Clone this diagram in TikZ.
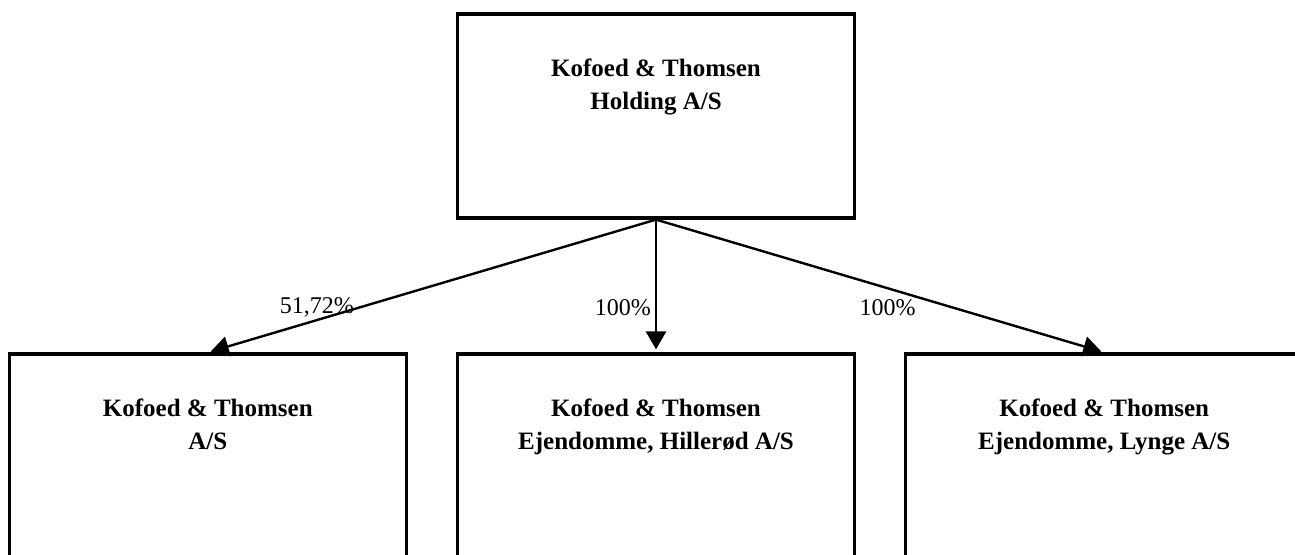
\documentclass[tikz,border=0pt]{standalone}
\usepackage{fontspec}
\setmainfont{Liberation Serif}
\usetikzlibrary{positioning,arrows.meta}

\begin{document}
\begin{tikzpicture}[font=\fontsize{12}{14}\selectfont]
            \tikzstyle{company}=[rectangle,draw,line width=1.6pt,minimum width=198.5pt,minimum height=102pt,inner sep=0pt]
            \tikzstyle{company name}=[font=\fontsize{12.5}{16.5}\selectfont\bfseries,align=center,inner sep=0pt,anchor=north,yshift=-23pt]
            \tikzstyle{share}=[-{Triangle[length=9pt,width=10pt]},line width=1.2pt,shorten >=1.5pt]
            \tikzstyle{share label}=[inner sep=0pt,anchor=east]
            \useasboundingbox (0,0) rectangle (647.5pt,-277pt);
            \clip (0,0) rectangle (647.5pt,-277pt);
            % mother company
            \node(holding)[company,label={[company name]north:Kofoed \& Thomsen\\Holding A/S}] at (328pt,-58pt) {};
            % subsidiaries
            \node(hillerod)[company,below=66.4pt of holding,label={[company name]north:Kofoed \& Thomsen\\Ejendomme, Hillerød A/S}] {};
            \node(as)[company,left=24pt of hillerod,label={[company name]north:Kofoed \& Thomsen\\A/S}] {};
            \node(lynge)[company,right=24pt of hillerod,label={[company name]north:Kofoed \& Thomsen\\Ejendomme, Lynge A/S}] {};
            % ownership
            \draw[share] (holding.south) -- (as.north) node[share label,pos=0.66,xshift=-2.5pt]{51,72\%};
            \draw[share] (holding.south) -- (hillerod.north) node[share label,pos=0.66,xshift=-2pt]{100\%};
            \draw[share] (holding.south) -- (lynge.north) node[share label,pos=0.66,xshift=-17.5pt]{100\%};
          \end{tikzpicture}
\end{document}
